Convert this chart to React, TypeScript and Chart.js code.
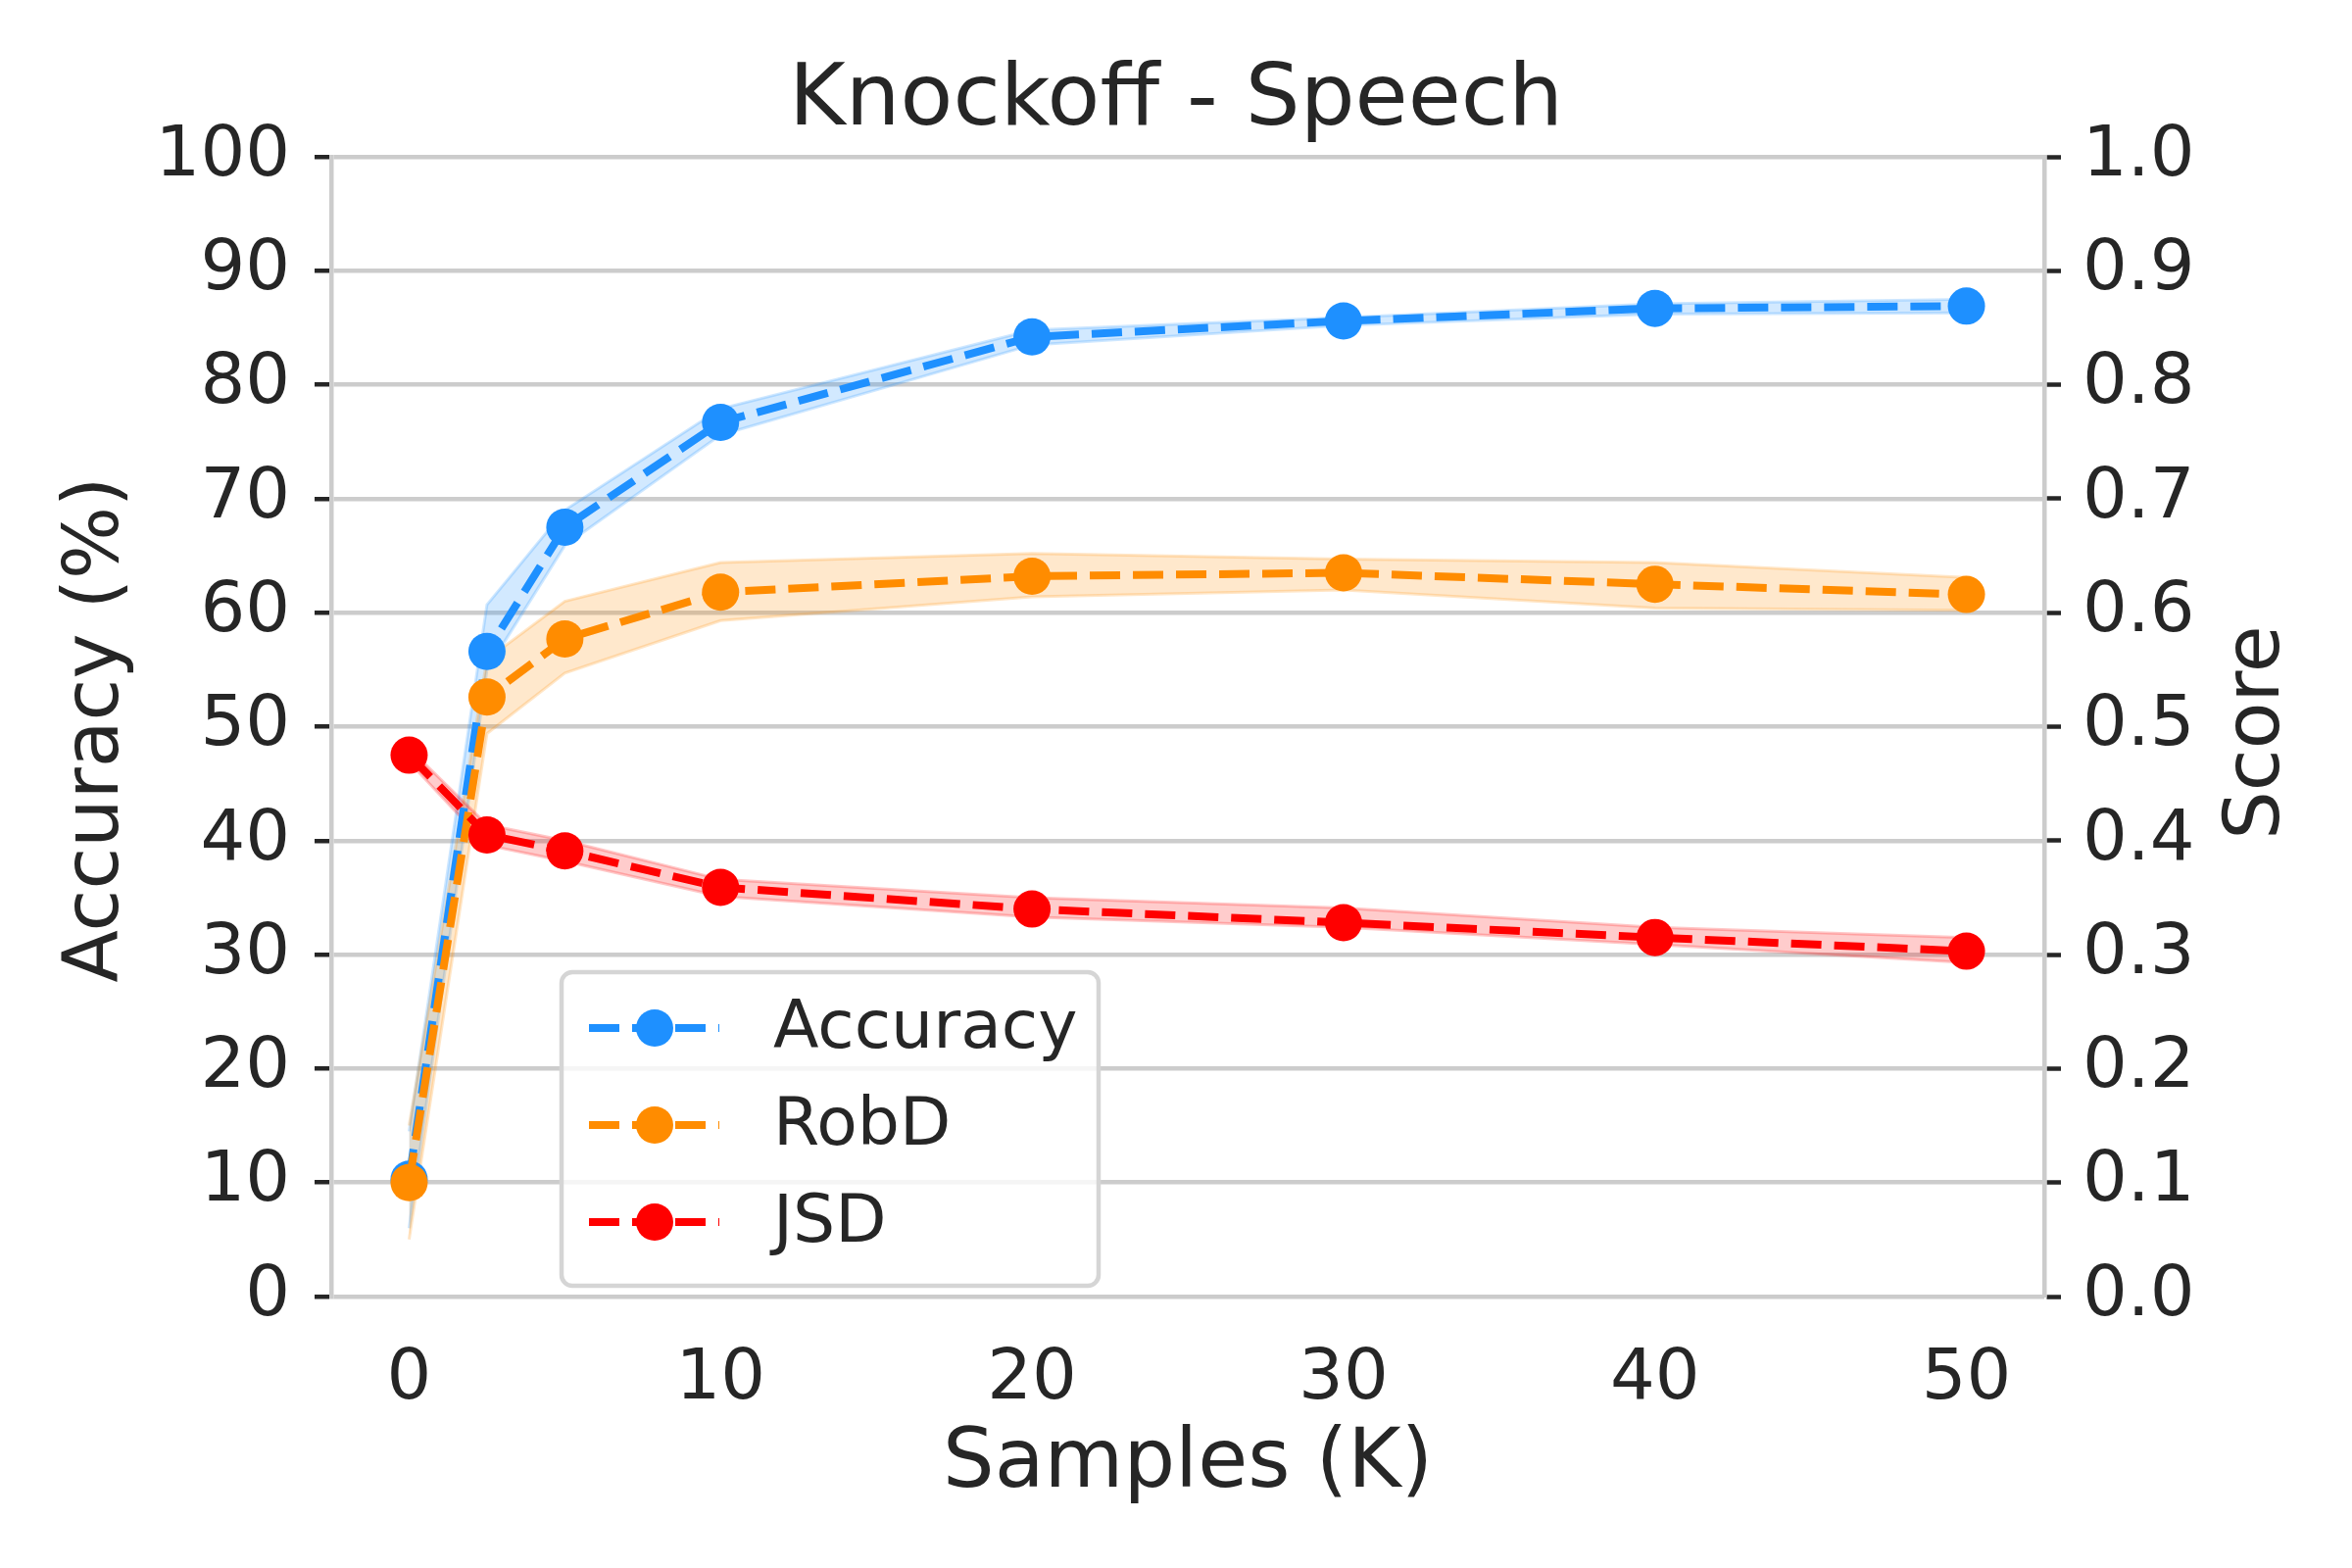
import { useRef, useEffect } from "react";
import { Chart, registerables, type Plugin } from "chart.js";

Chart.register(...registerables);

/* values */
const samplesK = [0, 2.5, 5, 10, 20, 30, 40, 50];
const xTickValues = [0, 10, 20, 30, 40, 50];

const accuracyMean = [10.3, 56.6, 67.5, 76.7, 84.2, 85.6, 86.7, 86.9];
const accuracyLow = [6.0, 55.0, 65.9, 75.6, 83.5, 85.2, 86.2, 86.3];
const accuracyHigh = [14.5, 60.7, 69.0, 77.9, 84.8, 85.9, 87.1, 87.5];

const robdMean = [0.1, 0.526, 0.577, 0.618, 0.632, 0.635, 0.625, 0.616];
const robdLow = [0.05, 0.494, 0.547, 0.593, 0.614, 0.62, 0.604, 0.602];
const robdHigh = [0.15, 0.559, 0.61, 0.644, 0.652, 0.647, 0.644, 0.631];

const jsdMean = [0.475, 0.405, 0.391, 0.359, 0.34, 0.328, 0.315, 0.303];
const jsdLow = [0.469, 0.396, 0.382, 0.351, 0.333, 0.324, 0.309, 0.293];
const jsdHigh = [0.481, 0.414, 0.4, 0.366, 0.35, 0.341, 0.324, 0.315];

const seriesLabels = ["Accuracy", "RobD", "JSD"];
const seriesColors = ["#1e90ff", "#ff8c00", "#ff0000"];
const seriesRgb = ["30,144,255", "255,140,0", "255,0,0"];

const TITLE = "Knockoff - Speech";
const X_LABEL = "Samples (K)";
const Y_LABEL = "Accuracy (%)";
const Y2_LABEL = "Score";

const FONT = '"DejaVu Sans", sans-serif';
const INK = "#262626";
const GRID = "#cccccc";
const DASH = [31, 13];

const series = [
  { mean: accuracyMean, low: accuracyLow, high: accuracyHigh, axis: "y" },
  { mean: robdMean, low: robdLow, high: robdHigh, axis: "y1" },
  { mean: jsdMean, low: jsdLow, high: jsdHigh, axis: "y1" },
];

const pts = (ys: number[]) => samplesK.map((x, i) => ({ x, y: ys[i] }));

function buildDatasets() {
  const bands: any[] = [];
  const lines: any[] = [];
  series.forEach((s, i) => {
    const edge = `rgba(${seriesRgb[i]},0.22)`;
    bands.push({
      label: `${seriesLabels[i]} low`,
      data: pts(s.low),
      yAxisID: s.axis,
      borderColor: edge,
      borderWidth: 3,
      pointRadius: 0,
      fill: false,
      order: 20 - i,
    });
    bands.push({
      label: `${seriesLabels[i]} high`,
      data: pts(s.high),
      yAxisID: s.axis,
      borderColor: edge,
      borderWidth: 3,
      backgroundColor: `rgba(${seriesRgb[i]},0.2)`,
      pointRadius: 0,
      fill: "-1",
      order: 20 - i,
    });
    lines.push({
      label: seriesLabels[i],
      data: pts(s.mean),
      yAxisID: s.axis,
      borderColor: seriesColors[i],
      borderWidth: 8,
      borderDash: DASH,
      borderJoinStyle: "round",
      pointRadius: 19,
      pointHoverRadius: 19,
      pointBorderWidth: 0,
      pointBackgroundColor: seriesColors[i],
      fill: false,
      tension: 0,
      order: 5 - i,
    });
  });
  return [...bands, ...lines];
}

/* title, axis labels and the matplotlib-like legend */
const figureText: Plugin = {
  id: "figureText",
  afterDraw(chart) {
    const { ctx, chartArea } = chart;
    const cx = (chartArea.left + chartArea.right) / 2;
    const cy = (chartArea.top + chartArea.bottom) / 2;
    ctx.save();
    ctx.fillStyle = INK;
    ctx.textBaseline = "alphabetic";
    ctx.textAlign = "center";

    ctx.font = `88px ${FONT}`;
    ctx.fillText(TITLE, cx - 12, 127);

    ctx.font = `83px ${FONT}`;
    ctx.fillText(X_LABEL, cx, 1517);

    ctx.font = `78px ${FONT}`;
    ctx.save();
    ctx.translate(120, cy + 3);
    ctx.rotate(-Math.PI / 2);
    ctx.fillText(Y_LABEL, 0, 0);
    ctx.restore();

    ctx.save();
    ctx.translate(2325, cy + 6);
    ctx.rotate(-Math.PI / 2);
    ctx.fillText(Y2_LABEL, 0, 0);
    ctx.restore();

    // legend box
    const bx = chartArea.left + 235;
    const by = chartArea.top + 832;
    const bw = 548;
    const bh = 320;
    ctx.beginPath();
    ctx.roundRect(bx, by, bw, bh, 11);
    ctx.fillStyle = "rgba(255,255,255,0.8)";
    ctx.fill();
    ctx.lineWidth = 4.5;
    ctx.strokeStyle = "#d5d5d5";
    ctx.stroke();

    seriesLabels.forEach((label, i) => {
      const ry = by + 57 + i * 99;
      ctx.beginPath();
      ctx.setLineDash(DASH);
      ctx.lineWidth = 8;
      ctx.strokeStyle = seriesColors[i];
      ctx.moveTo(bx + 28, ry);
      ctx.lineTo(bx + 161, ry);
      ctx.stroke();
      ctx.setLineDash([]);
      ctx.beginPath();
      ctx.arc(bx + 95, ry, 19, 0, Math.PI * 2);
      ctx.fillStyle = seriesColors[i];
      ctx.fill();
      ctx.fillStyle = INK;
      ctx.font = `68px ${FONT}`;
      ctx.textAlign = "left";
      ctx.textBaseline = "middle";
      ctx.fillText(label, bx + 216, ry + 2);
    });
    ctx.restore();
  },
};

export default function App() {
  const canvasRef = useRef<HTMLCanvasElement>(null);

  useEffect(() => {
    if (!canvasRef.current) return;
    const tickFont = { family: FONT, size: 72 };

    const chart = new Chart(canvasRef.current, {
      type: "line",
      data: { datasets: buildDatasets() },
      options: {
        responsive: false,
        devicePixelRatio: 1,
        animation: false,
        layout: { padding: { top: 160, left: 0, right: 0, bottom: 0 } },
        plugins: {
          legend: { display: false },
          tooltip: { enabled: false },
          title: { display: false },
        },
        scales: {
          x: {
            type: "linear",
            min: -2.5,
            max: 52.5,
            grid: { display: false },
            border: { display: false },
            ticks: {
              font: tickFont,
              color: INK,
              padding: 34,
              maxRotation: 0,
            },
            afterBuildTicks: (scale) => {
              scale.ticks = xTickValues.map((value) => ({ value }));
            },
            afterFit: (scale) => {
              scale.height = 277;
            },
          },
          y: {
            position: "left",
            min: 0,
            max: 100,
            ticks: { stepSize: 10, font: tickFont, color: INK, padding: 25 },
            grid: {
              color: GRID,
              lineWidth: 4.5,
              tickColor: INK,
              tickWidth: 4.5,
              tickLength: 17,
            },
            border: { display: true, color: GRID, width: 4.5 },
            afterFit: (scale) => {
              scale.width = 338;
            },
          },
          y1: {
            position: "right",
            min: 0,
            max: 1,
            ticks: {
              stepSize: 0.1,
              font: tickFont,
              color: INK,
              padding: 22,
              callback: (v) => Number(v).toFixed(1),
            },
            grid: {
              drawOnChartArea: false,
              tickColor: INK,
              tickWidth: 4.5,
              tickLength: 17,
            },
            border: { display: true, color: GRID, width: 4.5 },
            afterFit: (scale) => {
              scale.width = 314;
            },
          },
        },
      },
      plugins: [figureText],
    });

    return () => {
      chart.destroy();
    };
  }, []);

  return (
    <div
      style={{
        position: "absolute",
        left: 0,
        top: 0,
        width: 2400,
        height: 1600,
        background: "#fff",
      }}
    >
      <canvas
        ref={canvasRef}
        width={2400}
        height={1600}
        style={{ width: 2400, height: 1600 }}
      />
    </div>
  );
}
